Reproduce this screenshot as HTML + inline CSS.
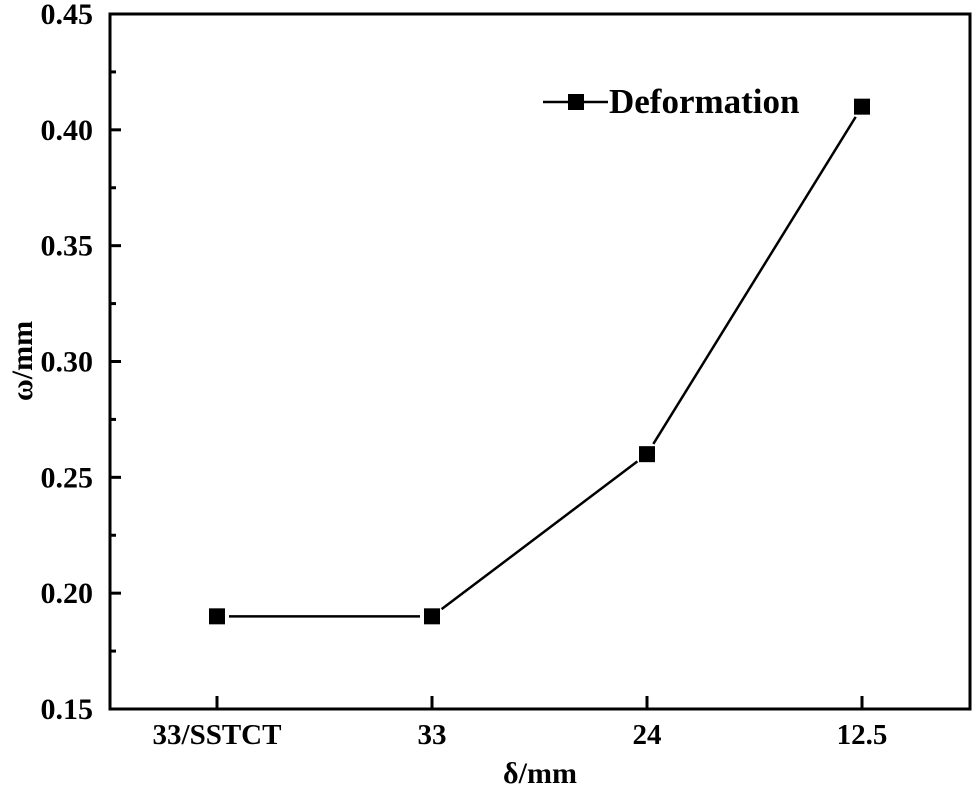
<!DOCTYPE html>
<html><head><meta charset="utf-8"><style>
html,body{margin:0;padding:0;background:#fff;}
svg{display:block;font-family:"Liberation Serif",serif;font-weight:bold;}
</style></head><body>
<svg width="976" height="791" viewBox="0 0 976 791">
<g id="chart"></g>
</svg>
<script>
const categories=["33/SSTCT","33","24","12.5"];
const deformation=[0.19,0.19,0.26,0.41];
const yTicks=[0.15,0.20,0.25,0.30,0.35,0.40,0.45];
const yTickLabels=["0.15","0.20","0.25","0.30","0.35","0.40","0.45"];
const L=110,R=970,T=14,B=709;
const y=v=>B-(v-0.15)/0.30*(B-T);
const x=i=>217+i*215;
const ns="http://www.w3.org/2000/svg";
const g=document.getElementById('chart');
function mk(t,a,p){const e=document.createElementNS(ns,t);for(const k in a)e.setAttribute(k,a[k]);(p||g).appendChild(e);return e;}
const frame=mk('rect',{x:L,y:T,width:R-L,height:B-T,fill:'none',stroke:'#000','stroke-width':3});


yTicks.forEach((v,i)=>{
  const t=mk('line',{x1:L,x2:L+11,y1:y(v),y2:y(v),stroke:'#000','stroke-width':3});
  
  
  if(i<yTicks.length-1){
    const m=mk('line',{x1:L,x2:L+6,y1:y(v+0.025),y2:y(v+0.025),stroke:'#000','stroke-width':3});
    
    
  }
  const lb=mk('text',{x:93,y:y(v)+10,'text-anchor':'end','font-size':30});
  lb.textContent=yTickLabels[i];
  
  
});
categories.forEach((c,i)=>{
  const t=mk('line',{x1:x(i),x2:x(i),y1:B,y2:B-13,stroke:'#000','stroke-width':3});
  
  
  const lb=mk('text',{x:x(i),y:744,'text-anchor':'middle','font-size':29});
  lb.textContent=c;
  
  
});
for(let i=0;i<deformation.length-1;i++){
  const x1=x(i),y1=y(deformation[i]),x2=x(i+1),y2=y(deformation[i+1]);
  const dx=x2-x1,dy=y2-y1,len=Math.hypot(dx,dy),gap=12;
  const s=mk('line',{x1:x1+dx/len*gap,y1:y1+dy/len*gap,x2:x2-dx/len*gap,y2:y2-dy/len*gap,stroke:'#000','stroke-width':2.5});
  
  
}
deformation.forEach((v,i)=>{
  const p=mk('rect',{x:x(i)-8,y:y(v)-8,width:16,height:16,fill:'#000'});
  
  
});
const lg=mk('g',{});


mk('line',{x1:543,x2:608,y1:102,y2:102,stroke:'#000','stroke-width':2.5},lg);
mk('rect',{x:568,y:94,width:16,height:16,fill:'#000'},lg);
const lt=mk('text',{x:609,y:113,'font-size':35},lg);
lt.textContent='Deformation';
const xt=mk('text',{x:540,y:783,'text-anchor':'middle','font-size':30});
xt.textContent='δ/mm';


const yt=mk('text',{x:0,y:0,'text-anchor':'middle','font-size':30,transform:'translate(32,361) rotate(-90)'});
yt.textContent='ω/mm';


</script>
</body></html>
